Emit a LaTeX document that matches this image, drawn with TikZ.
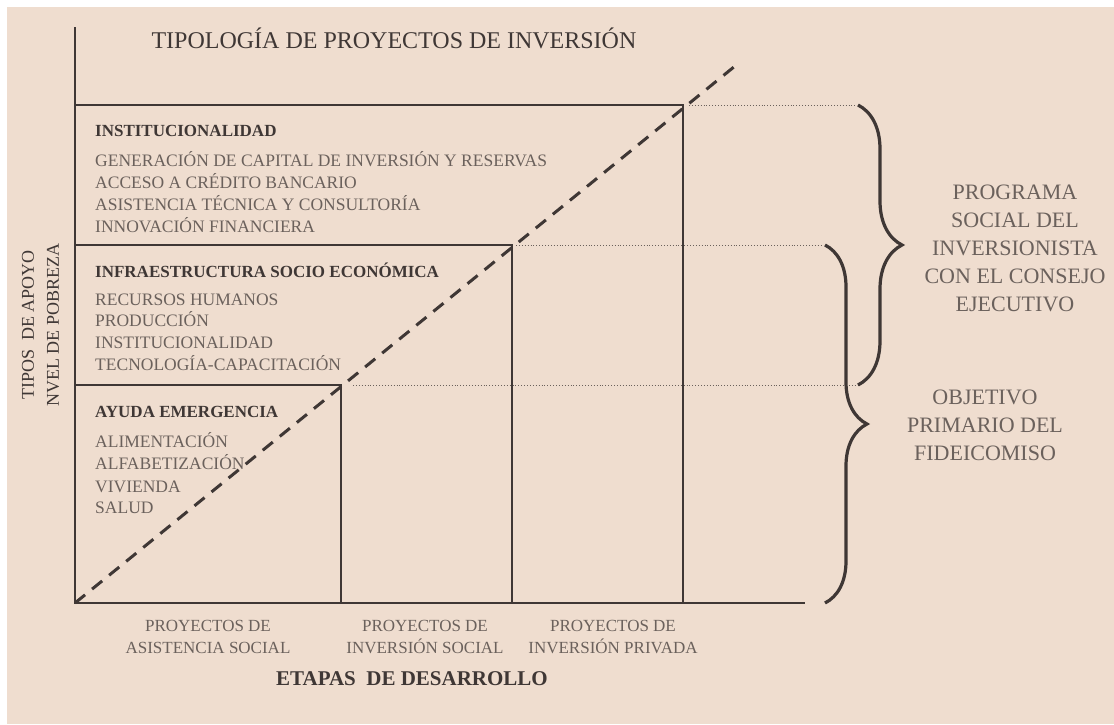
\documentclass[tikz,border=0pt]{standalone}
\usepackage{fontspec}
\setmainfont{Liberation Serif}
\usetikzlibrary{decorations.pathreplacing}
\definecolor{paper}{HTML}{EFDDCF}
\definecolor{ink}{HTML}{3F3735}
\definecolor{greyink}{HTML}{6B615C}
\begin{document}
\begin{tikzpicture}[x=1pt,y=-1pt,
  axisline/.style={ink,line width=1.6pt},
  guide/.style={greyink,line width=0.9pt,dotted},
  diag/.style={ink,line width=3pt,dash pattern=on 13pt off 9pt},
  curly/.style={ink,line width=3.2pt,decorate,decoration={brace,amplitude=#1}},
  head/.style={anchor=base west,inner sep=0pt,text=ink,font=\fontsize{17}{20}\selectfont\bfseries},
  item/.style={anchor=base west,inner sep=0pt,text=greyink,font=\fontsize{17.5}{20}\selectfont},
  caption/.style={anchor=base,inner sep=0pt,text=greyink,font=\fontsize{17}{20}\selectfont},
  side/.style={anchor=base,inner sep=0pt,text=greyink,font=\fontsize{22}{26}\selectfont}]
\useasboundingbox (0,0) rectangle (1114,724);
\fill[white] (0,0) rectangle (1114,724);
\fill[paper] (7,7) rectangle (1114,724);
\coordinate (o) at (75,603);
\coordinate (c1) at (341,385);
\coordinate (c2) at (512,245);
\coordinate (c3) at (683,105);
\draw[axisline] (75,27) -- (o) -- (805,603);
\draw[axisline] (75,105) -- (c3) -- (683,603);
\draw[axisline] (75,245) -- (c2) -- (512,603);
\draw[axisline] (75,385) -- (c1) -- (341,603);
\draw[diag] (o) -- (740,62);
\draw[guide] (c3) ++(6,0) -- (855,105);
\draw[guide] (c2) ++(4,0) -- (822,245);
\draw[guide] (c1) ++(12,0) -- (860,385);
\draw[curly=44] (858,105) -- (858,385);
\draw[curly=42] (825,245) -- (825,603);
\node[anchor=base,inner sep=0pt,text=ink,font=\fontsize{24}{26}\selectfont] (title) at (394,48) {TIPOLOGÍA DE PROYECTOS DE INVERSIÓN};
\node[head] (inst) at (95,136) {INSTITUCIONALIDAD};
\node[item] (inst1) at (95,166) {GENERACIÓN DE CAPITAL DE INVERSIÓN Y RESERVAS};
\node[item] (inst2) at (95,188) {ACCESO A CRÉDITO BANCARIO};
\node[item] (inst3) at (95,210) {ASISTENCIA TÉCNICA Y CONSULTORÍA};
\node[item] (inst4) at (95,232) {INNOVACIÓN FINANCIERA};
\node[head] (infra) at (95,277) {INFRAESTRUCTURA SOCIO ECONÓMICA};
\node[item] (infra1) at (95,305) {RECURSOS HUMANOS};
\node[item] (infra2) at (95,326) {PRODUCCIÓN};
\node[item] (infra3) at (95,348) {INSTITUCIONALIDAD};
\node[item] (infra4) at (95,370) {TECNOLOGÍA-CAPACITACIÓN};
\node[head] (ayuda) at (95,417) {AYUDA EMERGENCIA};
\node[item] (ayuda1) at (95,447) {ALIMENTACIÓN};
\node[item] (ayuda2) at (95,469) {ALFABETIZACIÓN};
\node[item] (ayuda3) at (95,492) {VIVIENDA};
\node[item] (ayuda4) at (95,513) {SALUD};
\node[caption] (etapa1a) at (208,631) {PROYECTOS DE};
\node[caption] (etapa1b) at (208,653) {ASISTENCIA SOCIAL};
\node[caption] (etapa2a) at (425,631) {PROYECTOS DE};
\node[caption] (etapa2b) at (425,653) {INVERSIÓN SOCIAL};
\node[caption] (etapa3a) at (613,631) {PROYECTOS DE};
\node[caption] (etapa3b) at (613,653) {INVERSIÓN PRIVADA};
\node[anchor=base,inner sep=0pt,text=ink,font=\fontsize{21}{24}\selectfont\bfseries] (etapas) at (412,685) {ETAPAS\ \ DE DESARROLLO};
\node[rotate=90,inner sep=0pt,text=ink,font=\fontsize{18}{20}\selectfont] (tipos) at (28,325) {TIPOS\ \ DE APOYO};
\node[rotate=90,inner sep=0pt,text=ink,font=\fontsize{18}{20}\selectfont] (nivel) at (53,325) {NVEL DE POBREZA};
\node[side] (prog1) at (1015,199) {PROGRAMA};
\node[side] (prog2) at (1015,227) {SOCIAL DEL};
\node[side] (prog3) at (1015,255) {INVERSIONISTA};
\node[side] (prog4) at (1015,283) {CON EL CONSEJO};
\node[side] (prog5) at (1015,311) {EJECUTIVO};
\node[side] (obj1) at (985,404) {OBJETIVO};
\node[side] (obj2) at (985,432) {PRIMARIO DEL};
\node[side] (obj3) at (985,460) {FIDEICOMISO};
\end{tikzpicture}
\end{document}
